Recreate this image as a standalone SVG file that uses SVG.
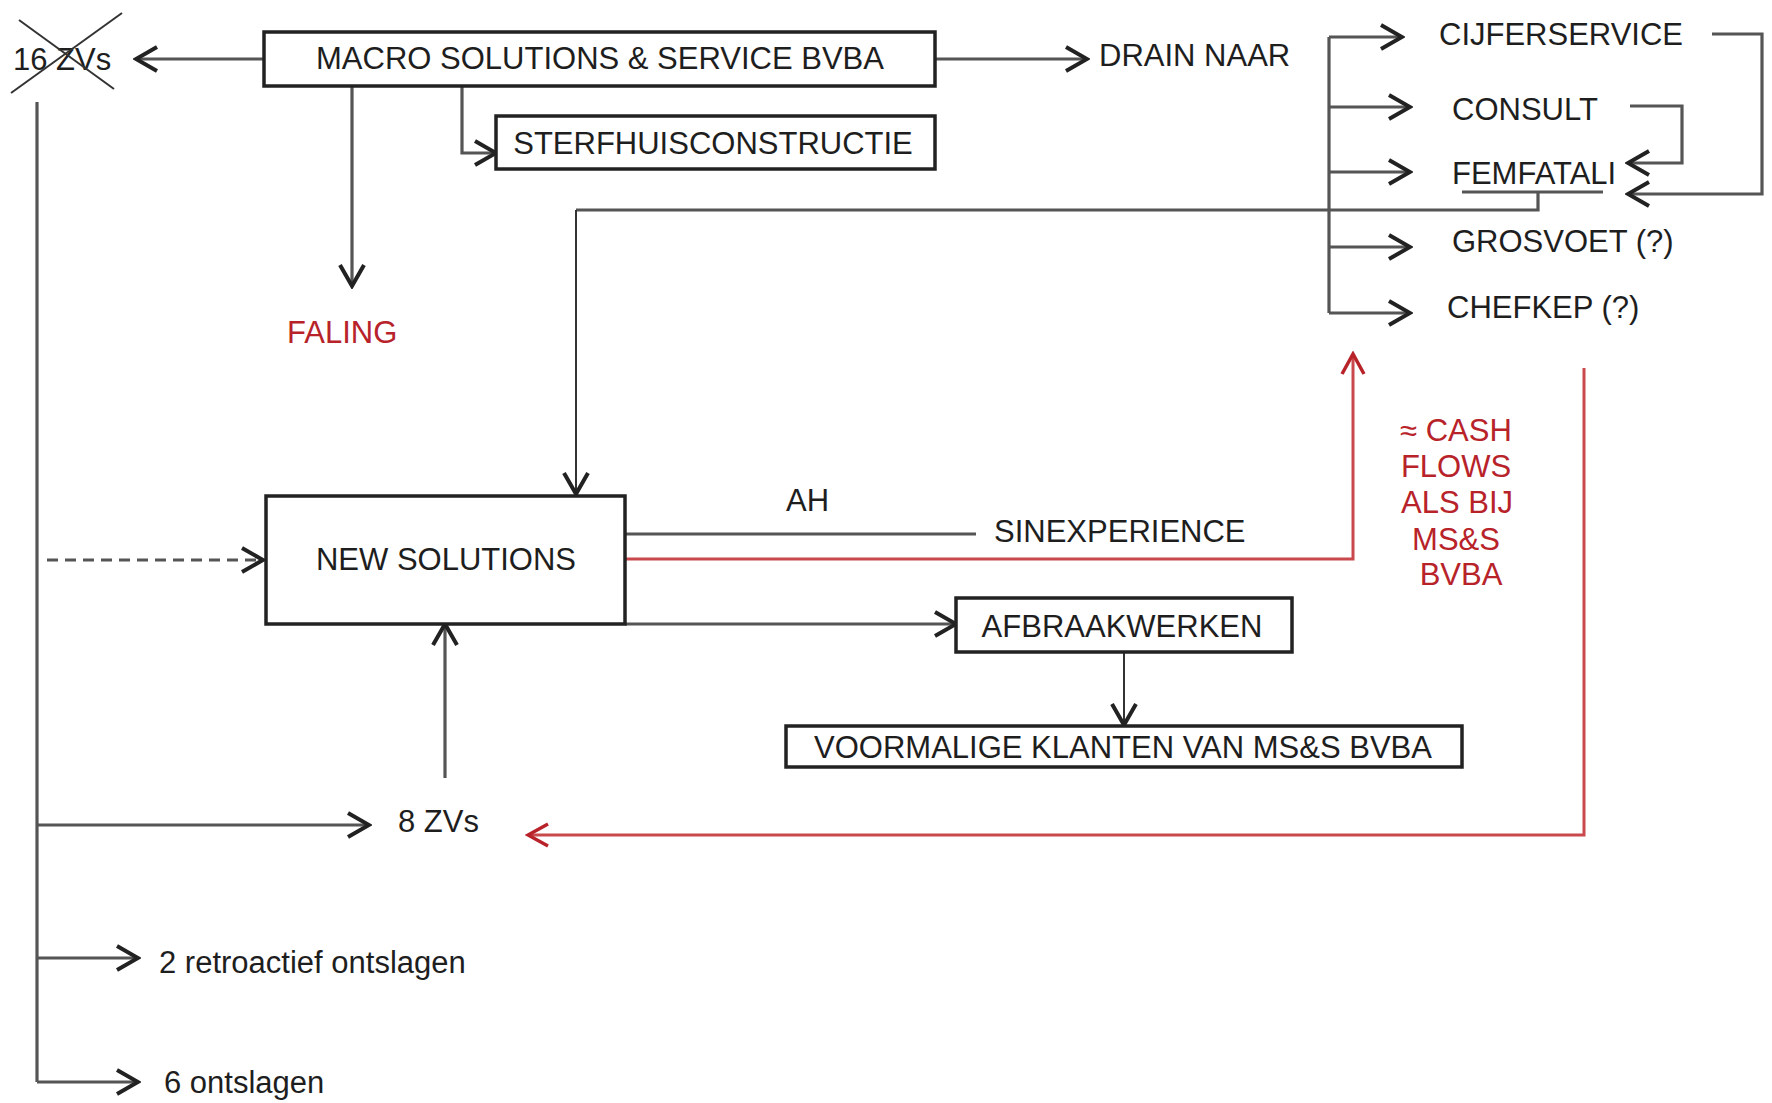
<svg xmlns="http://www.w3.org/2000/svg" width="1772" height="1103" viewBox="0 0 1772 1103">
<defs>
<style>
text{font-family:"Liberation Sans",Arial,sans-serif;font-size:31px;fill:#1e1e1e}
.red{fill:#b8232a}
.box{fill:#fff;stroke:#222;stroke-width:3.5}
.c{fill:none;stroke:#555;stroke-width:3.2}
.cd{fill:none;stroke:#333;stroke-width:2}
.r{fill:none;stroke:#c9484c;stroke-width:3}
.x{stroke:#333;stroke-width:2}
</style>
<marker id="a" markerUnits="userSpaceOnUse" markerWidth="26" markerHeight="30" viewBox="0 0 26 30" refX="23" refY="15" orient="auto">
<path d="M2,3 L23,15 L2,27" fill="none" stroke="#222" stroke-width="4"/>
</marker>
<marker id="ar" markerUnits="userSpaceOnUse" markerWidth="26" markerHeight="30" viewBox="0 0 26 30" refX="23" refY="15" orient="auto">
<path d="M3,4 L23,15 L3,26" fill="none" stroke="#b8232a" stroke-width="3.5"/>
</marker>
</defs>

<g id="connectors">
<path class="c" d="M264,59 H136" marker-end="url(#a)"/>
<path class="c" d="M935,59 H1087" marker-end="url(#a)"/>
<path class="c" d="M462,86 V153 H496" marker-end="url(#a)"/>
<path class="c" d="M352,86 V286" marker-end="url(#a)"/>
<path class="c" d="M37,102 V1082"/>
<path class="c" d="M37,825 H369" marker-end="url(#a)"/>
<path class="c" d="M37,958 H138" marker-end="url(#a)"/>
<path class="c" d="M37,1082 H138" marker-end="url(#a)"/>
<path class="c" d="M47,560 H263" stroke-dasharray="11 7" marker-end="url(#a)"/>
<path class="c" d="M445,778 V624" marker-end="url(#a)"/>
<path class="c" d="M625,534 H976"/>
<path class="c" d="M625,624 H956" marker-end="url(#a)"/>
<path class="cd" d="M1124,652 V725" marker-end="url(#a)"/>
<path class="c" d="M1329,37 V313"/>
<path class="c" d="M1329,37 H1402" marker-end="url(#a)"/>
<path class="c" d="M1329,107 H1410" marker-end="url(#a)"/>
<path class="c" d="M1329,172 H1410" marker-end="url(#a)"/>
<path class="c" d="M1329,247 H1410" marker-end="url(#a)"/>
<path class="c" d="M1329,313 H1410" marker-end="url(#a)"/>
<path class="c" d="M1712,34 H1762 V194 H1628" marker-end="url(#a)"/>
<path class="c" d="M1630,106 H1682 V163 H1628" marker-end="url(#a)"/>
<path class="c" d="M1462,192 H1603 M1538,192 V210 H576"/>
<path class="cd" d="M576,210 V494" marker-end="url(#a)"/>
<path class="r" d="M625,559 H1353 V354" marker-end="url(#ar)"/>
<path class="r" d="M1584,368 V835 H528" marker-end="url(#ar)"/>
</g>

<g id="n-16zvs">
<text x="13" y="70">16 ZVs</text>
<line class="x" x1="19" y1="20" x2="114" y2="89"/>
<line class="x" x1="11" y1="93" x2="122" y2="13"/>
</g>
<g id="n-macro">
<rect class="box" x="264" y="32" width="671" height="54"/>
<text x="600" y="69" text-anchor="middle">MACRO SOLUTIONS &amp; SERVICE BVBA</text>
</g>
<g id="n-sterfhuis">
<rect class="box" x="496" y="116" width="439" height="53"/>
<text x="713" y="154" text-anchor="middle">STERFHUISCONSTRUCTIE</text>
</g>
<g id="n-drain"><text x="1099" y="66">DRAIN NAAR</text></g>
<g id="n-cijfer"><text x="1439" y="45">CIJFERSERVICE</text></g>
<g id="n-consult"><text x="1452" y="120">CONSULT</text></g>
<g id="n-femfatali"><text x="1452" y="184">FEMFATALI</text></g>
<g id="n-grosvoet"><text x="1452" y="252">GROSVOET (?)</text></g>
<g id="n-chefkep"><text x="1447" y="318">CHEFKEP (?)</text></g>
<g id="n-faling"><text class="red" x="287" y="343">FALING</text></g>
<g id="n-newsol">
<rect class="box" x="266" y="496" width="359" height="128"/>
<text x="446" y="570" text-anchor="middle">NEW SOLUTIONS</text>
</g>
<g id="n-ah"><text x="786" y="511">AH</text></g>
<g id="n-sinexp"><text x="994" y="542">SINEXPERIENCE</text></g>
<g id="n-cash">
<text class="red" x="1456" y="441" text-anchor="middle">≈ CASH</text>
<text class="red" x="1456" y="477" text-anchor="middle">FLOWS</text>
<text class="red" x="1457" y="513" text-anchor="middle">ALS BIJ</text>
<text class="red" x="1456" y="550" text-anchor="middle">MS&amp;S</text>
<text class="red" x="1461" y="585" text-anchor="middle">BVBA</text>
</g>
<g id="n-afbraak">
<rect class="box" x="956" y="598" width="336" height="54"/>
<text x="1122" y="637" text-anchor="middle">AFBRAAKWERKEN</text>
</g>
<g id="n-voormalige">
<rect class="box" x="786" y="726" width="676" height="41"/>
<text x="1123" y="758" text-anchor="middle">VOORMALIGE KLANTEN VAN MS&amp;S BVBA</text>
</g>
<g id="n-8zvs"><text x="398" y="832">8 ZVs</text></g>
<g id="n-2retro"><text x="159" y="973">2 retroactief ontslagen</text></g>
<g id="n-6ont"><text x="164" y="1093">6 ontslagen</text></g>
</svg>
